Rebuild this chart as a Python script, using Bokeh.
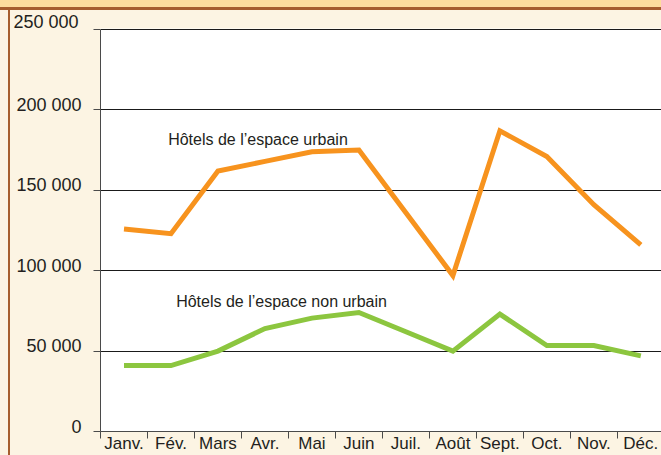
from bokeh.plotting import figure
from bokeh.models import (FixedTicker, Label, Range1d, LinearAxis,
                          CustomJSTickFormatter)
from bokeh.embed import file_html
from bokeh.resources import INLINE

# ---- data ----
months = ["Janv.", "Fév.", "Mars", "Avr.", "Mai", "Juin", "Juil.", "Août",
          "Sept.", "Oct.", "Nov.", "Déc."]
urbain = [126000, 123000, 162000, 168000, 174000, 175000, 136000, 97000,
          187000, 171000, 141000, 116000]
non_urbain = [41000, 41000, 50000, 64000, 70500, 74000, 62000, 50000,
              73000, 53500, 53500, 47000]
y_ticks = [0, 50000, 100000, 150000, 200000, 250000]
y_tick_labels = ["0", "50 000", "100 000", "150 000", "200 000", "250 000"]
series_names = ["Hôtels de l’espace urbain", "Hôtels de l’espace non urbain"]

FONT = "Liberation Sans"
TXT = "#231F20"
ORANGE = "#F7931E"
GREEN = "#8CC63F"
CREAM = "#FCF4E3"
BROWN = "#A65E2E"
STRIP = "#FDDD9D"
AXIS = "#4a4a4a"
GRID = "#1a1a1a"

n = len(months)
xs = [i + 0.5 for i in range(n)]
Y_MAX = y_ticks[-1]
PX = Y_MAX / 402                 # data units per pixel
TOP_PAD = 1 * PX                 # keep the top grid line inside the frame
LABEL_SHIFT = 5 * PX             # tick labels sit ~5px above their tick

bg = (f"linear-gradient({STRIP},{STRIP}) 0 0 / 100% 7px no-repeat, "
      f"linear-gradient({BROWN},{BROWN}) 0 7px / 100% 3px no-repeat, "
      f"linear-gradient({BROWN},{BROWN}) 8px 10px / 2px 100% no-repeat, "
      f"{CREAM}")

p = figure(width=661, height=455, output_backend="svg", toolbar_location=None,
           title=y_tick_labels[-1],
           x_range=Range1d(0, 11.94), y_range=Range1d(0, Y_MAX + TOP_PAD),
           min_border_left=100, min_border_right=0, min_border_top=28,
           min_border_bottom=24,
           background_fill_color="white", border_fill_color=None,
           outline_line_color=None,
           styles={"background": bg})

# the top tick label "250 000" (drawn as the title, left of the frame)
p.title.align = "left"
p.title.offset = -87
p.title.standoff = -7
p.title.text_font = FONT
p.title.text_font_size = "18px"
p.title.text_font_style = "normal"
p.title.text_color = TXT

# x axis: labels at month centres, ticks (minor) at month boundaries
p.xaxis.ticker = FixedTicker(ticks=xs, minor_ticks=list(range(n + 1)))
p.xaxis.formatter = CustomJSTickFormatter(
    args=dict(months=months), code="return months[Math.floor(tick)] || '';")
p.xaxis.major_tick_out = 0
p.xaxis.major_tick_in = 0
p.xaxis.minor_tick_out = 7
p.xaxis.minor_tick_in = 0
p.xaxis.major_label_standoff = -5
p.xaxis.major_label_text_font = FONT
p.xaxis.major_label_text_font_size = "17px"
p.xaxis.major_label_text_color = TXT
p.xaxis.axis_line_color = AXIS
p.xaxis.minor_tick_line_color = AXIS

# y axis: line + tick marks only
p.yaxis.ticker = FixedTicker(ticks=[], minor_ticks=y_ticks)
p.yaxis.bounds = (0, Y_MAX)
p.yaxis.major_tick_out = 0
p.yaxis.major_tick_in = 0
p.yaxis.minor_tick_out = 7
p.yaxis.minor_tick_in = 0
p.yaxis.major_label_standoff = 0
p.yaxis.axis_line_color = AXIS
p.yaxis.minor_tick_line_color = AXIS

# y labels on a slightly shifted range so they sit above the ticks
p.extra_y_ranges = {"lab": Range1d(-LABEL_SHIFT, Y_MAX + TOP_PAD - LABEL_SHIFT)}
lab_axis = LinearAxis(y_range_name="lab",
                      ticker=FixedTicker(ticks=y_ticks[:-1], minor_ticks=[]),
                      major_label_overrides={t: s for t, s in zip(y_ticks, y_tick_labels)},
                      axis_line_color=None, major_tick_line_color=None,
                      minor_tick_line_color=None, major_tick_out=0,
                      major_tick_in=0, minor_tick_out=0, minor_tick_in=0,
                      major_label_standoff=12,
                      major_label_text_font=FONT,
                      major_label_text_font_size="18px",
                      major_label_text_color=TXT)
p.add_layout(lab_axis, "left")

p.xgrid.grid_line_color = None
p.ygrid.ticker = FixedTicker(ticks=y_ticks, minor_ticks=[])
p.ygrid.grid_line_color = GRID
p.ygrid.grid_line_width = 1

# series
p.line(xs, urbain, line_color=ORANGE, line_width=5, line_join="miter")
p.line(xs, non_urbain, line_color=GREEN, line_width=5, line_join="miter")

# series annotations
p.add_layout(Label(x=1.44, y=181800, text=series_names[0], text_font=FONT,
                   text_font_size="16px", text_color=TXT,
                   text_baseline="alphabetic"))
p.add_layout(Label(x=1.61, y=81100, text=series_names[1], text_font=FONT,
                   text_font_size="16px", text_color=TXT,
                   text_baseline="alphabetic"))

open("out.html", "w").write(file_html(p, INLINE))
